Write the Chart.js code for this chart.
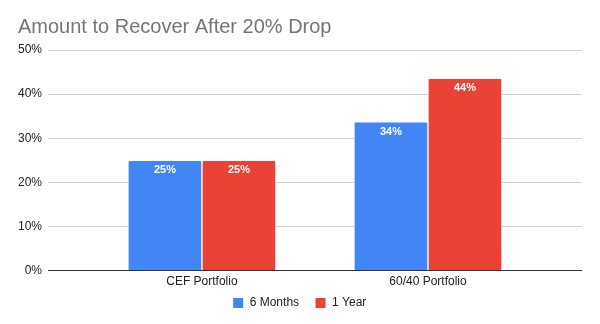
<!DOCTYPE html>
<html lang="en">
<head>
<meta charset="UTF-8">
<title>Amount to Recover After 20% Drop</title>
<script src="https://cdn.jsdelivr.net/npm/chart.js"></script>
<style>
  html, body { margin: 0; padding: 0; background: #fff; }
  #wrap { width: 600px; height: 324px; }
</style>
</head>
<body>
<div id="wrap"><canvas id="recoverChart"></canvas></div>
<script>
const categories = ['CEF Portfolio', '60/40 Portfolio'];
const sixMonths = [25, 33.7];
const oneYear = [25, 43.6];
const yTicks = [0, 10, 20, 30, 40, 50];

Chart.defaults.font.family = "'Liberation Sans', Arial, sans-serif";

// white value labels just inside the top of each bar
const barLabels = {
  id: 'barLabels',
  afterDatasetsDraw(chart) {
    const ctx = chart.ctx;
    ctx.save();
    ctx.fillStyle = '#fff';
    ctx.font = "bold 11px 'Liberation Sans', Arial, sans-serif";
    ctx.textAlign = 'center';
    ctx.textBaseline = 'middle';
    chart.data.datasets.forEach((ds, i) => {
      chart.getDatasetMeta(i).data.forEach((bar, j) => {
        ctx.fillText(Math.round(ds.data[j].y) + '%', bar.x, bar.y + 10);
      });
    });
    ctx.restore();
  }
};

// pull the legend a bit closer to the axis labels
const legendNudge = {
  id: 'legendNudge',
  afterLayout(chart) {
    chart.legend.top -= 12;
    chart.legend.bottom -= 12;
  }
};

const toPoints = arr => arr.map((v, i) => ({ x: i, y: v }));

new Chart(document.getElementById('recoverChart'), {
  type: 'bar',
  data: {
    datasets: [
      { label: '6 Months', data: toPoints(sixMonths), backgroundColor: '#4285F4' },
      { label: '1 Year', data: toPoints(oneYear), backgroundColor: '#EA4335' }
    ]
  },
  plugins: [barLabels, legendNudge],
  options: {
    responsive: true,
    maintainAspectRatio: false,
    animation: false,
    datasets: {
      bar: { barThickness: 74, borderWidth: 1, borderColor: '#fff', borderSkipped: 'start', borderRadius: 2 }
    },
    layout: { padding: { left: 18, right: 19, bottom: 1 } },
    plugins: {
      title: {
        display: true,
        text: 'Amount to Recover After 20% Drop',
        align: 'start',
        color: '#757575',
        font: { size: 20, weight: 'normal' },
        padding: { top: 15, bottom: 11 }
      },
      legend: {
        position: 'bottom',
        maxHeight: 30,
        labels: { boxWidth: 11, boxHeight: 11, padding: 16, color: '#222', font: { size: 12 } }
      },
      tooltip: { enabled: false }
    },
    scales: {
      x: {
        type: 'linear',
        offset: false,
        min: -0.681,
        max: 1.677,
        afterBuildTicks: scale => { scale.ticks = categories.map((c, i) => ({ value: i })); },
        ticks: {
          color: '#222',
          font: { size: 12 },
          padding: 4,
          autoSkip: false,
          maxRotation: 0,
          callback: v => categories[v]
        },
        grid: { display: false, drawTicks: false },
        border: { display: true, color: '#333', width: 1 }
      },
      y: {
        min: 0,
        max: 50,
        afterBuildTicks: scale => { scale.ticks = yTicks.map(v => ({ value: v })); },
        afterFit: scale => { scale.width = 30; },
        ticks: { color: '#222', font: { size: 12 }, padding: 6, callback: v => v + '%' },
        grid: { drawTicks: false, color: ctx => ctx.tick.value === 0 ? 'rgba(0,0,0,0)' : '#d0d0d0' },
        border: { display: false }
      }
    }
  }
});
</script>
</body>
</html>
